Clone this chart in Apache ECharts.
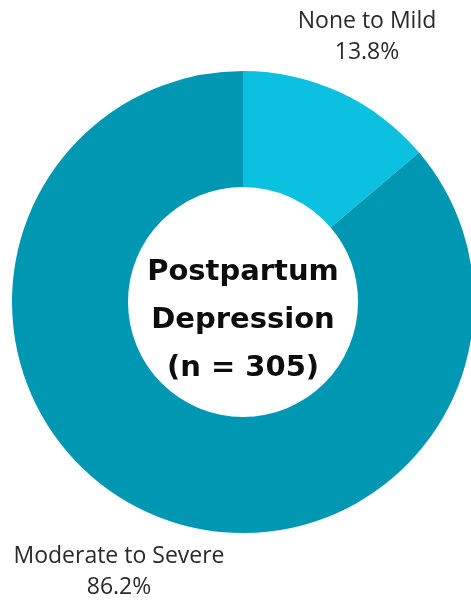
<!DOCTYPE html>
<html>
<head>
<meta charset="utf-8">
<script src="https://cdn.jsdelivr.net/npm/echarts@6/dist/echarts.min.js"></script>
<style>
  html, body { margin: 0; padding: 0; background: #ffffff; }
  #chart { width: 471px; height: 600px; }
</style>
</head>
<body>
<div id="chart"></div>
<script>
// Severity groups and their share of respondents (%)
const categories = ['None to Mild', 'Moderate to Severe'];
const shares = [13.8, 86.2];
const sliceColors = ['#0cc0df', '#0097b2'];
const centerLines = ['Postpartum', 'Depression', '(n = 305)'];

// Where each category's caption sits (pixels)
const captionAnchors = [
  { x: 367, y: 37 },
  { x: 119, y: 572 }
];

const chart = echarts.init(document.getElementById('chart'), null, { renderer: 'canvas' });

chart.setOption({
  backgroundColor: '#ffffff',
  animation: false,
  graphic: [{
    type: 'text',
    x: 243,
    y: 320,
    style: {
      text: centerLines.join('\n'),
      align: 'center',
      verticalAlign: 'middle',
      font: 'bold 29px "DejaVu Sans", sans-serif',
      lineHeight: 48,
      fill: '#0d0d0d'
    }
  }],
  series: [{
    type: 'pie',
    center: [243, 302],
    radius: [115, 231],
    startAngle: 90,
    clockwise: true,
    avoidLabelOverlap: false,
    silent: true,
    itemStyle: { borderWidth: 0 },
    label: {
      show: true,
      position: 'outside',
      formatter: p => p.name + '\n' + p.value.toFixed(1) + '%',
      fontFamily: '"Open Sans", sans-serif',
      fontSize: 23,
      lineHeight: 31,
      color: '#2a2a2a',
      align: 'center'
    },
    labelLine: { show: false },
    labelLayout: params => {
      const a = captionAnchors[params.dataIndex];
      return { x: a.x, y: a.y, align: 'center', verticalAlign: 'middle' };
    },
    data: categories.map((name, i) => ({
      name,
      value: shares[i],
      itemStyle: { color: sliceColors[i] }
    }))
  }]
});
</script>
</body>
</html>
